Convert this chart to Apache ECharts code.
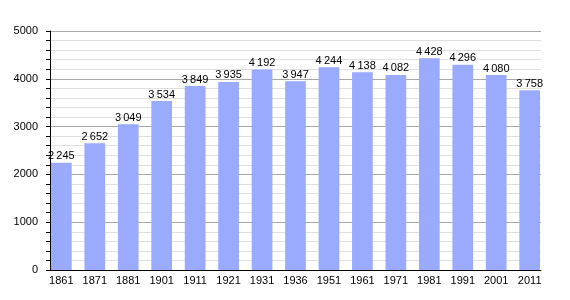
<!DOCTYPE html>
<html>
<head>
<meta charset="utf-8">
<script src="https://cdn.jsdelivr.net/npm/echarts@6/dist/echarts.min.js"></script>
<style>html,body{margin:0;padding:0;background:#fff}#c{width:570px;height:300px}</style>
</head>
<body>
<div id="c"></div>
<script>
const years = ['1861','1871','1881','1901','1911','1921','1931','1936','1951','1961','1971','1981','1991','2001','2011'];
const population = [2245,2652,3049,3534,3849,3935,4192,3947,4244,4138,4082,4428,4296,4080,3758];
const yTicks = [0,1000,2000,3000,4000,5000];

function fmt(v){
  const s = String(v);
  return s.length > 3 ? s.slice(0, s.length-3) + '\u2009' + s.slice(-3) : s;
}

const chart = echarts.init(document.getElementById('c'), null, {renderer:'canvas'});
chart.setOption({
  animation:false,
  backgroundColor:'#fff',
  textStyle:{fontFamily:'Liberation Sans, Arial, sans-serif'},
  grid:[
    {left:50, right:29, top:31, bottom:30, containLabel:false},
    {left:44.6, right:23.6, top:31, bottom:30, containLabel:false}
  ],
  xAxis:[
    {
      gridIndex:0, type:'category', data:years,
      axisLine:{show:true, lineStyle:{color:'#000', width:1}},
      axisTick:{show:false}, axisLabel:{show:false}, splitLine:{show:false}
    },
    {
      gridIndex:1, type:'category', data:years,
      axisLine:{show:false}, axisTick:{show:false},
      axisLabel:{color:'#000', fontSize:11, margin:5, interval:0}
    }
  ],
  yAxis:[
    {
      gridIndex:0, type:'value',
      min:yTicks[0], max:yTicks[yTicks.length-1], interval:1000,
      axisLine:{show:true, lineStyle:{color:'#000', width:1}},
      axisTick:{show:true, inside:false, length:4, lineStyle:{color:'#000'}},
      minorTick:{show:true, splitNumber:5, length:4, lineStyle:{color:'#000'}},
      axisLabel:{color:'#000', fontSize:11, margin:12, formatter:v=>String(v)},
      splitLine:{show:true, lineStyle:{color:'#a8a8a8', width:1}},
      minorSplitLine:{show:true, lineStyle:{color:'#e0e0e0', width:1}}
    },
    {
      gridIndex:1, type:'value',
      min:yTicks[0], max:yTicks[yTicks.length-1], interval:1000,
      show:false, splitLine:{show:false}
    }
  ],
  series:[{
    type:'bar',
    xAxisIndex:1, yAxisIndex:1,
    data:population,
    barWidth:20.7,
    itemStyle:{color:'#99aaff'},
    label:{show:true, position:'top', distance:1, color:'#000', fontSize:11,
      formatter:p=>fmt(p.value)}
  }]
});
</script>
</body>
</html>
